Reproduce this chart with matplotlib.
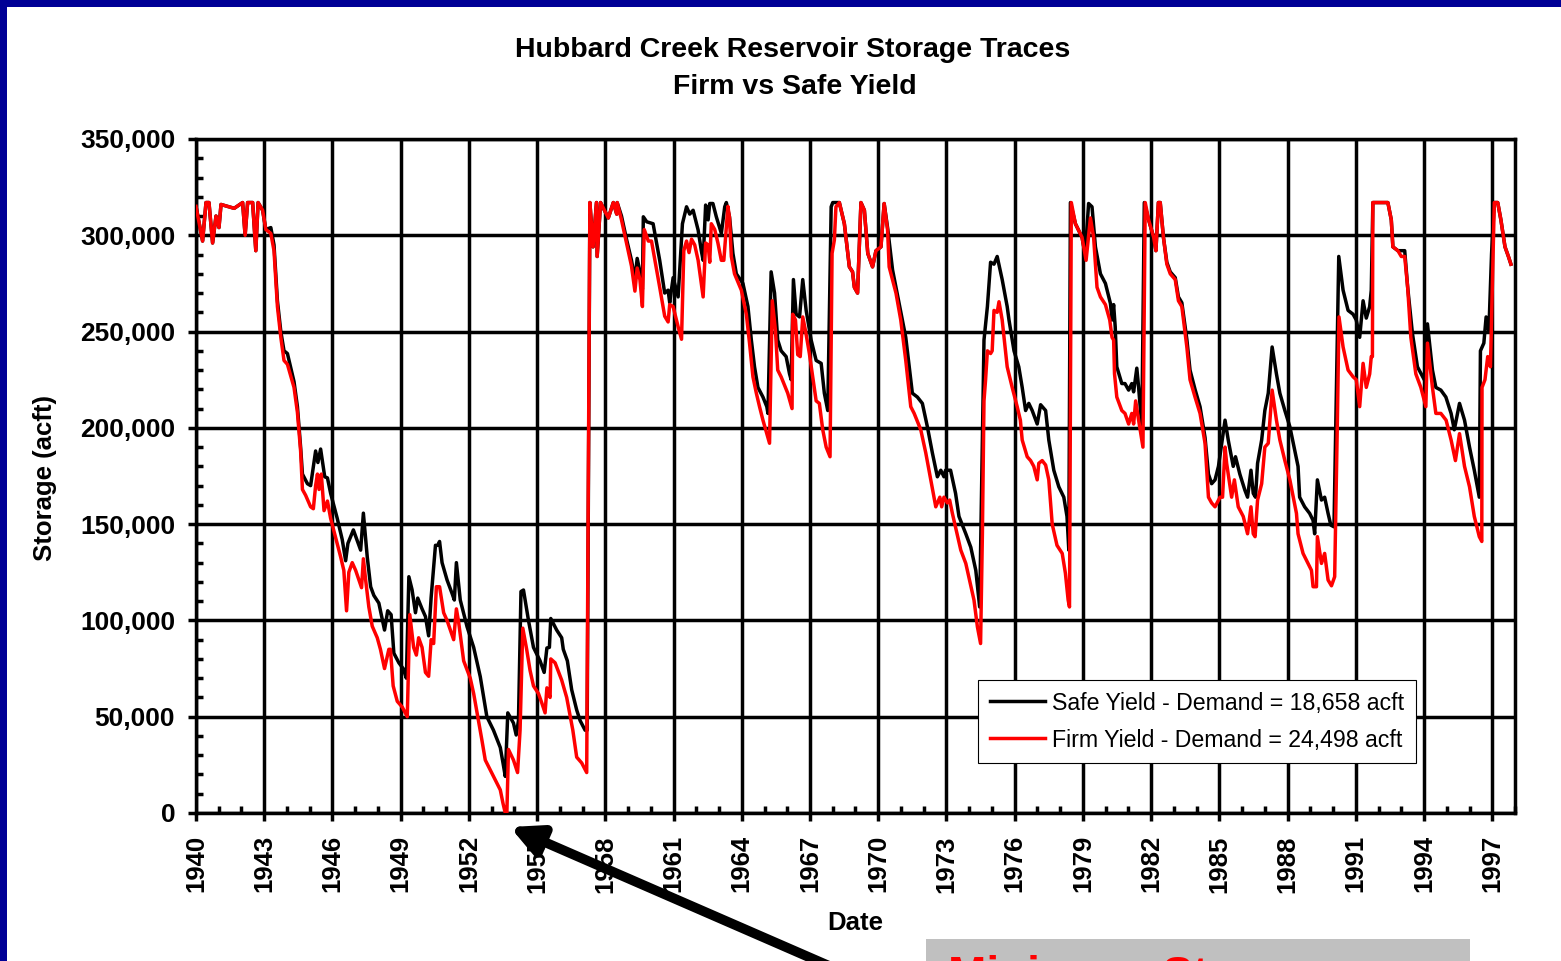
import numpy as np
import matplotlib
matplotlib.use('Agg')
import matplotlib.pyplot as plt
from matplotlib.patches import Rectangle
from matplotlib.ticker import FixedLocator, MultipleLocator, FuncFormatter

# storage traces (decimal year, storage in 1000 acft)
firm_years = [
    1940.00, 1940.29, 1940.44, 1940.57, 1940.73, 1940.88, 1941.01, 1941.10, 1941.68, 1942.05,
    1942.16, 1942.27, 1942.49, 1942.63, 1942.73, 1942.93, 1943.07, 1943.29, 1943.43, 1943.58,
    1943.73, 1943.87, 1944.02, 1944.31, 1944.46, 1944.60, 1944.68, 1944.82, 1945.04, 1945.16,
    1945.26, 1945.34, 1945.41, 1945.51, 1945.63, 1945.78, 1945.92, 1946.14, 1946.36, 1946.50,
    1946.62, 1946.72, 1946.87, 1947.02, 1947.28, 1947.36, 1947.46, 1947.60, 1947.75, 1947.97,
    1948.11, 1948.29, 1948.48, 1948.55, 1948.67, 1948.85, 1949.07, 1949.29, 1949.40, 1949.57,
    1949.69, 1949.79, 1949.94, 1950.09, 1950.23, 1950.34, 1950.45, 1950.57, 1950.71, 1950.89,
    1951.04, 1951.33, 1951.45, 1951.55, 1951.77, 1952.06, 1952.21, 1952.57, 1952.72, 1953.08,
    1953.38, 1953.50, 1953.60, 1953.67, 1953.74, 1953.96, 1954.14, 1954.25, 1954.37, 1954.54,
    1954.69, 1954.84, 1955.06, 1955.21, 1955.35, 1955.43, 1955.57, 1955.60, 1955.79, 1956.08,
    1956.30, 1956.57, 1956.74, 1956.96, 1957.18, 1957.32, 1957.46, 1957.61, 1957.64, 1957.79,
    1958.13, 1958.35, 1958.50, 1958.52, 1958.71, 1958.93, 1959.15, 1959.30, 1959.40, 1959.52,
    1959.63, 1959.71, 1959.89, 1960.03, 1960.39, 1960.61, 1960.76, 1960.83, 1960.98, 1961.20,
    1961.35, 1961.45, 1961.57, 1961.68, 1961.79, 1961.93, 1962.08, 1962.22, 1962.30, 1962.41,
    1962.52, 1962.59, 1962.66, 1962.81, 1962.95, 1963.10, 1963.21, 1963.39, 1963.46, 1963.54,
    1963.68, 1963.98, 1964.20, 1964.34, 1964.49, 1964.64, 1964.78, 1964.93, 1965.22, 1965.34,
    1965.48, 1965.58, 1965.73, 1966.02, 1966.21, 1966.24, 1966.36, 1966.46, 1966.57, 1966.68,
    1966.80, 1966.97, 1967.27, 1967.41, 1967.56, 1967.71, 1967.88, 1967.97, 1968.07, 1968.14,
    1968.29, 1968.51, 1968.73, 1968.87, 1968.95, 1969.09, 1969.24, 1969.39, 1969.54, 1969.75,
    1969.90, 1970.12, 1970.26, 1970.41, 1970.48, 1970.78, 1970.99, 1971.21, 1971.43, 1971.58,
    1971.87, 1972.09, 1972.31, 1972.53, 1972.71, 1972.79, 1972.89, 1973.04, 1973.14, 1973.26,
    1973.63, 1973.85, 1974.21, 1974.36, 1974.50, 1974.58, 1974.65, 1974.72, 1974.80, 1974.94,
    1975.01, 1975.09, 1975.23, 1975.31, 1975.45, 1975.67, 1975.89, 1976.11, 1976.25, 1976.33,
    1976.55, 1976.70, 1976.84, 1976.99, 1977.06, 1977.21, 1977.36, 1977.50, 1977.65, 1977.86,
    1978.09, 1978.23, 1978.35, 1978.41, 1978.49, 1978.67, 1978.96, 1979.14, 1979.33, 1979.47,
    1979.62, 1979.77, 1979.99, 1980.18, 1980.28, 1980.35, 1980.39, 1980.49, 1980.71, 1980.85,
    1981.01, 1981.15, 1981.23, 1981.32, 1981.45, 1981.64, 1981.74, 1981.89, 1982.11, 1982.21,
    1982.32, 1982.40, 1982.54, 1982.69, 1982.84, 1983.06, 1983.20, 1983.35, 1983.57, 1983.71,
    1983.93, 1984.15, 1984.37, 1984.52, 1984.66, 1984.81, 1985.03, 1985.14, 1985.25, 1985.32,
    1985.54, 1985.66, 1985.83, 1986.05, 1986.24, 1986.39, 1986.49, 1986.57, 1986.68, 1986.86,
    1987.00, 1987.15, 1987.32, 1987.51, 1987.66, 1987.88, 1988.10, 1988.39, 1988.46, 1988.68,
    1988.90, 1989.05, 1989.12, 1989.27, 1989.31, 1989.49, 1989.63, 1989.78, 1989.93, 1990.07,
    1990.19, 1990.26, 1990.44, 1990.66, 1990.88, 1991.02, 1991.17, 1991.32, 1991.46, 1991.61,
    1991.68, 1991.73, 1991.75, 1992.41, 1992.56, 1992.63, 1992.85, 1993.00, 1993.15, 1993.28,
    1993.42, 1993.64, 1993.86, 1994.08, 1994.15, 1994.37, 1994.52, 1994.74, 1994.97, 1995.19,
    1995.38, 1995.56, 1995.78, 1996.00, 1996.21, 1996.43, 1996.54, 1996.55, 1996.68, 1996.80,
    1996.92, 1997.02, 1997.09, 1997.24, 1997.38, 1997.56, 1997.71, 1997.82]
firm_storage = [
    315, 297, 317, 317, 296, 310, 304, 316, 314, 317,
    300, 317, 317, 292, 317, 313, 303, 301, 292, 263,
    247, 235, 233, 221, 208, 188, 168, 165, 159, 158,
    170, 176, 168, 176, 157, 162, 153, 143, 133, 126,
    105, 125, 130, 126, 117, 132, 121, 107, 97, 91,
    85, 75, 85, 85, 66, 58, 55, 50, 103, 86,
    82, 91, 86, 73, 71, 90, 88, 117.5, 117.5, 104,
    100, 90, 106, 99, 79, 70, 62, 38, 27.5, 19,
    12, 5, 0, 0, 33, 27.5, 21, 43, 96, 85,
    74, 66, 62, 57, 52, 65, 60, 80, 78, 69,
    60, 43, 29, 26, 21, 317, 294, 317, 289, 317,
    309, 317, 311, 317, 308, 296, 284, 271, 283, 277,
    263, 303, 297, 297, 273, 258, 255, 264, 263, 252.5,
    246, 292, 297, 291, 298, 295, 287, 275, 268, 296,
    295, 286, 306, 303, 296, 287, 287, 315, 309, 289,
    280, 271.5, 259, 244, 226.5, 218, 211, 204, 192, 266,
    250.5, 230, 226.5, 218, 210, 259, 256, 238, 237, 257.6,
    250.5, 238.7, 214, 212.7, 199, 190, 185, 290.6, 297.5, 314.8,
    317, 306, 283.6, 281, 273, 270, 317, 313, 290.6, 283.6,
    292, 294, 316.5, 302.7, 283.6, 270, 256, 235, 211, 207.5,
    199, 187, 173, 159, 164, 159, 164, 161, 162.5, 155.6,
    136.5, 129.6, 110.6, 96.7, 88, 145, 214, 225, 240, 238.6,
    240, 261, 260, 265.5, 256, 231.7, 221, 211, 204, 193.7,
    185, 183, 180, 173, 181.6, 183, 180.7, 173, 150, 139,
    134.8, 124.5, 110.6, 107, 317, 306, 299, 287, 309, 299,
    273, 268, 264, 256, 247, 245.6, 228, 216, 209, 207.5,
    202, 207.5, 202, 214, 204, 190, 317, 308, 299, 292,
    317, 317, 299, 285, 280, 277, 266, 263, 242, 225,
    216, 207.5, 192, 164, 161, 159, 164, 164, 190, 181.6,
    164, 173, 159, 154, 145, 159, 145, 143.5, 162.5, 171,
    190, 192, 219.6, 204, 193.7, 183, 173, 155.6, 145, 134.8,
    129.6, 126, 117.5, 117.5, 143.5, 129.6, 134.8, 121, 118, 122.7,
    204, 257.6, 242, 230, 226.5, 225, 211, 233.5, 221, 228,
    237, 237, 317, 317, 308, 294, 292, 289, 289, 273,
    247, 228, 221, 211, 244, 221, 207.5, 207.5, 204, 193.7,
    183, 197, 180, 169.4, 154, 143.5, 141, 221, 225, 237,
    231.7, 282, 317, 317, 308, 294, 289, 285]

safe_years = [
    1940.00, 1940.29, 1940.44, 1940.57, 1940.73, 1940.88, 1941.01, 1941.10, 1941.68, 1942.05,
    1942.16, 1942.27, 1942.49, 1942.63, 1942.73, 1942.93, 1943.07, 1943.29, 1943.43, 1943.58,
    1943.73, 1943.87, 1944.02, 1944.31, 1944.46, 1944.60, 1944.68, 1944.90, 1945.04, 1945.16,
    1945.26, 1945.36, 1945.48, 1945.66, 1945.78, 1945.92, 1946.21, 1946.43, 1946.58, 1946.68,
    1946.92, 1947.24, 1947.36, 1947.53, 1947.68, 1947.82, 1948.04, 1948.29, 1948.43, 1948.58,
    1948.70, 1948.92, 1949.11, 1949.25, 1949.36, 1949.50, 1949.65, 1949.75, 1949.94, 1950.09,
    1950.23, 1950.34, 1950.53, 1950.63, 1950.71, 1950.82, 1951.04, 1951.26, 1951.36, 1951.45,
    1951.62, 1951.92, 1952.21, 1952.50, 1952.79, 1953.08, 1953.38, 1953.50, 1953.60, 1953.71,
    1953.96, 1954.08, 1954.18, 1954.29, 1954.40, 1954.62, 1954.84, 1955.13, 1955.31, 1955.43,
    1955.54, 1955.60, 1955.86, 1956.08, 1956.15, 1956.33, 1956.52, 1956.74, 1956.89, 1957.11,
    1957.20, 1957.32, 1957.46, 1957.61, 1957.64, 1957.79, 1958.13, 1958.35, 1958.50, 1958.52,
    1958.71, 1958.93, 1959.15, 1959.30, 1959.40, 1959.52, 1959.63, 1959.67, 1959.82, 1960.10,
    1960.39, 1960.61, 1960.76, 1960.83, 1960.98, 1961.20, 1961.39, 1961.57, 1961.71, 1961.86,
    1962.08, 1962.22, 1962.30, 1962.41, 1962.52, 1962.59, 1962.73, 1962.88, 1963.10, 1963.25,
    1963.32, 1963.46, 1963.61, 1963.76, 1964.05, 1964.27, 1964.42, 1964.56, 1964.71, 1964.93,
    1965.10, 1965.15, 1965.29, 1965.44, 1965.58, 1965.73, 1965.95, 1966.10, 1966.17, 1966.27,
    1966.39, 1966.54, 1966.68, 1966.83, 1967.05, 1967.27, 1967.49, 1967.63, 1967.78, 1967.93,
    1968.00, 1968.29, 1968.51, 1968.73, 1968.87, 1968.95, 1969.09, 1969.24, 1969.39, 1969.54,
    1969.75, 1969.90, 1970.12, 1970.26, 1970.41, 1970.63, 1970.92, 1971.21, 1971.50, 1971.72,
    1971.94, 1972.16, 1972.38, 1972.60, 1972.75, 1972.89, 1972.96, 1973.18, 1973.40, 1973.55,
    1973.85, 1974.07, 1974.29, 1974.43, 1974.46, 1974.65, 1974.80, 1974.94, 1975.09, 1975.23,
    1975.45, 1975.67, 1975.75, 1975.97, 1976.18, 1976.33, 1976.48, 1976.62, 1976.77, 1976.99,
    1977.14, 1977.36, 1977.50, 1977.72, 1977.94, 1978.16, 1978.30, 1978.38, 1978.45, 1978.67,
    1978.96, 1979.10, 1979.25, 1979.40, 1979.55, 1979.69, 1979.77, 1979.99, 1980.21, 1980.28,
    1980.35, 1980.42, 1980.49, 1980.71, 1980.85, 1981.01, 1981.15, 1981.23, 1981.37, 1981.45,
    1981.59, 1981.70, 1981.89, 1982.11, 1982.21, 1982.32, 1982.40, 1982.54, 1982.69, 1982.84,
    1983.06, 1983.20, 1983.35, 1983.57, 1983.71, 1983.93, 1984.15, 1984.37, 1984.52, 1984.66,
    1984.81, 1984.96, 1985.25, 1985.39, 1985.61, 1985.71, 1985.90, 1986.12, 1986.24, 1986.39,
    1986.49, 1986.59, 1986.68, 1986.86, 1987.00, 1987.15, 1987.32, 1987.51, 1987.66, 1987.88,
    1988.10, 1988.32, 1988.46, 1988.53, 1988.75, 1988.97, 1989.12, 1989.19, 1989.31, 1989.49,
    1989.63, 1989.78, 1989.90, 1990.04, 1990.25, 1990.44, 1990.66, 1990.88, 1991.02, 1991.17,
    1991.32, 1991.46, 1991.61, 1991.68, 1991.75, 1992.41, 1992.56, 1992.63, 1992.85, 1993.00,
    1993.15, 1993.28, 1993.49, 1993.71, 1994.01, 1994.15, 1994.37, 1994.52, 1994.74, 1994.96,
    1995.19, 1995.33, 1995.56, 1995.78, 1996.00, 1996.21, 1996.43, 1996.48, 1996.63, 1996.73,
    1996.85, 1996.97, 1997.09, 1997.24, 1997.38, 1997.56, 1997.71, 1997.82]
safe_storage = [
    315, 297, 317, 317, 296, 310, 304, 316, 314, 317,
    300, 317, 317, 292, 317, 313, 303, 304, 295, 266,
    250, 240, 238.6, 224, 211, 190, 176, 171, 170, 180,
    188, 182, 189, 174.6, 174, 166, 153, 142, 131, 140,
    147, 136.5, 155.7, 133, 117.5, 113, 109, 95, 105, 103,
    83, 78, 75, 70, 122.7, 116, 104, 111.6, 106, 102,
    92, 112, 139, 139, 141, 130, 121, 114, 110.6, 130,
    110.6, 96.7, 86, 70.8, 50, 43, 34, 26, 19, 52,
    46.7, 40.5, 48, 115, 115.8, 100, 86, 79, 73, 85.7,
    86, 101, 95, 91, 85, 79, 64, 53.5, 48, 43,
    43, 317, 294, 317, 289, 317, 309, 317, 311, 317,
    310, 298, 287, 277, 288, 281, 272, 309.6, 307, 306,
    287, 270, 271.5, 265, 278, 268, 306, 314.8, 311, 313,
    302.7, 292, 287, 315.7, 308, 316.5, 316.5, 309.6, 301, 314.8,
    317, 309.6, 290.6, 280, 275, 263, 245.6, 231.7, 221, 216,
    211, 207.5, 281, 270, 245.6, 240, 237, 228, 225, 277,
    259, 257.6, 277, 261, 245.6, 235, 233.5, 218, 209, 314.8,
    317, 317, 306, 283.6, 281, 273, 270, 317, 313, 290.6,
    283.6, 292, 294, 316.5, 304, 282, 264.6, 247, 218, 216,
    212.7, 200.6, 187, 174.6, 178, 174.6, 178, 178, 166, 154,
    145, 138, 126, 110.6, 107, 245.6, 263, 286, 285, 289,
    277, 263, 256, 240, 231.7, 221, 209, 212.7, 209, 202,
    212, 209, 193.7, 178, 169.4, 164, 154, 136.5, 317, 306,
    299, 290, 316.5, 314.8, 294, 285, 280, 275, 264.6, 256,
    264, 252.5, 231.7, 223, 223, 219.6, 223, 218.7, 231, 221,
    200.6, 317, 308, 299, 292, 317, 317, 299, 286, 281,
    278, 268, 265, 246, 230, 220, 211, 195, 176, 171,
    173, 180, 204, 193.7, 180, 185, 176, 167.7, 164, 178,
    166, 164, 181.6, 193.7, 209, 218, 242, 228, 218, 209,
    200.6, 188, 180, 164, 159, 155.6, 152, 145, 173, 162.5,
    164, 155.6, 149.5, 148.6, 289, 271.5, 261, 259, 256, 247,
    266, 257, 263, 271.5, 317, 317, 308, 294, 292, 292,
    292, 273, 249, 231.7, 225, 254, 230, 221, 219.6, 216,
    207.5, 199, 212.7, 204, 190, 178, 164, 240, 244, 257.6,
    250, 290.6, 317, 317, 308, 294, 289, 285]

safe_label = 'Safe Yield - Demand = 18,658 acft'
firm_label = 'Firm Yield - Demand = 24,498 acft'
year_ticks = list(range(1940, 1998, 3))

W, H = 1561, 961
fig = plt.figure(figsize=(W / 100, H / 100), dpi=100)
fig.patch.set_facecolor('white')

# slide background showing at the top and left edge
navy = '#000096'
fig.add_artist(Rectangle((0, 1 - 7 / H), 1, 7 / H, transform=fig.transFigure, color=navy, lw=0))
fig.add_artist(Rectangle((0, 0), 7 / W, 1, transform=fig.transFigure, color=navy, lw=0))

ax = fig.add_axes([196 / W, 1 - 813 / H, (1515 - 196) / W, (813 - 139) / H])

bold = dict(family=['Liberation Sans', 'DejaVu Sans'], weight='bold')

ax.plot(safe_years, np.array(safe_storage) * 1000, color='black', lw=2.5, label=safe_label, zorder=3)
ax.plot(firm_years, np.array(firm_storage) * 1000, color='#ff0000', lw=2.5, label=firm_label, zorder=4)

ax.set_xlim(1940, 1998)
ax.set_ylim(0, 350000)

ax.xaxis.set_major_locator(FixedLocator(year_ticks))
ax.xaxis.set_minor_locator(MultipleLocator(1))
ax.yaxis.set_major_locator(MultipleLocator(50000))
ax.yaxis.set_minor_locator(MultipleLocator(10000))
ax.xaxis.set_major_formatter(FuncFormatter(lambda v, p: '%d' % round(v)))
ax.yaxis.set_major_formatter(FuncFormatter(lambda v, p: '{:,.0f}'.format(v)))

ax.grid(which='major', color='black', lw=2.5, zorder=1)
ax.set_axisbelow(True)
for s in ax.spines.values():
    s.set_linewidth(2.5)

ax.tick_params(which='major', direction='out', length=6, width=2.5, pad=9)
ax.tick_params(which='minor', direction='in', length=5, width=2.5)
ax.tick_params(axis='x', which='major', pad=10)
for lab in ax.get_xticklabels():
    lab.set_rotation(90)
    lab.set_fontsize(18.5)
    lab.set(**bold)
for lab in ax.get_yticklabels():
    lab.set_fontsize(19)
    lab.set(**bold)

fig.text(0.508, 1 - 50 / H, 'Hubbard Creek Reservoir Storage Traces', ha='center', va='center', fontsize=20.5, **bold)
fig.text(0.509, 1 - 87 / H, 'Firm vs Safe Yield', ha='center', va='center', fontsize=20.5, **bold)
fig.text(45 / W, 1 - 478 / H, 'Storage (acft)', rotation=90, ha='center', va='center', fontsize=18.5, **bold)
fig.text(855 / W, 1 - 923 / H, 'Date', ha='center', va='center', fontsize=18.5, **bold)

leg = ax.legend(loc='upper left', bbox_to_anchor=(978 / W, 1 - 680 / H), bbox_transform=fig.transFigure,
                borderaxespad=0, fancybox=False, framealpha=1, edgecolor='black', handlelength=2.4,
                handletextpad=0.3, borderpad=0.5, labelspacing=0.6,
                prop=dict(family=['Liberation Sans', 'DejaVu Sans'], size=16.7))
leg.get_frame().set_linewidth(0.8)
leg.set_zorder(6)

# callout below the chart, cut off by the slide edge as in the original
fig.add_artist(Rectangle((926 / W, 0), (1470 - 926) / W, (961 - 939) / H, transform=fig.transFigure,
                         color='#c0c0c0', lw=0))
fig.text(948 / W, 1 - 955 / H, 'Minimum Storage', color='#ff0000', ha='left', va='top', fontsize=33, **bold)
ax.annotate('', xy=(510 / W, 1 - 827 / H), xycoords='figure fraction',
            xytext=(850 / W, 1 - 975 / H), textcoords='figure fraction',
            arrowprops=dict(arrowstyle='-|>', lw=7, mutation_scale=45, color='black', shrinkA=0, shrinkB=0),
            annotation_clip=False)

fig.savefig('out.png', dpi=100)
